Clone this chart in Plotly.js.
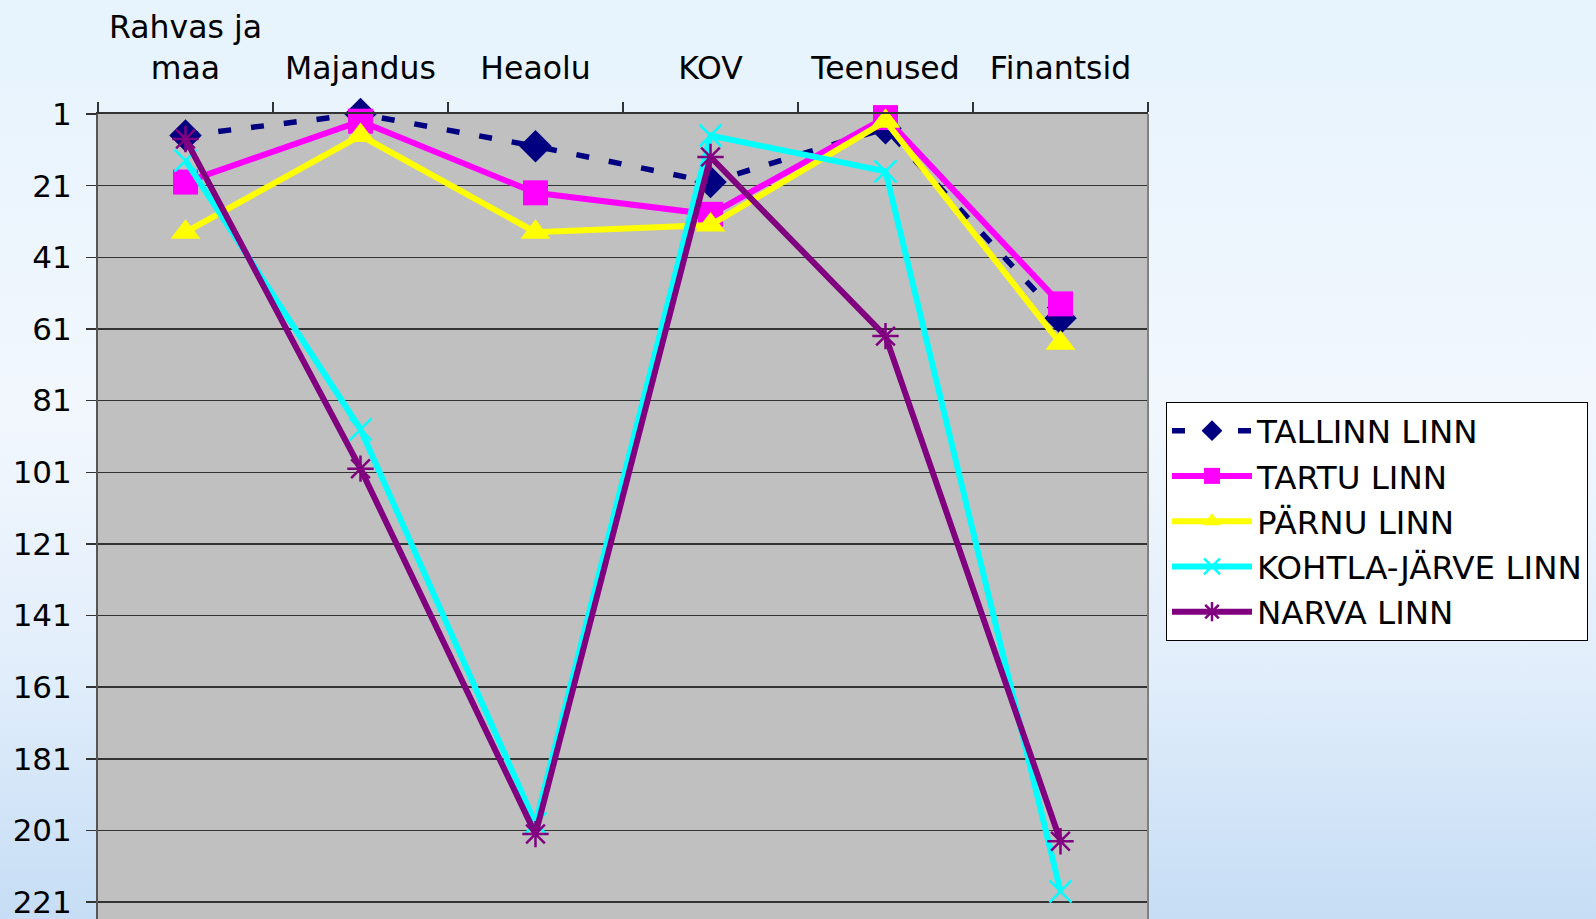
<!DOCTYPE html>
<html>
<head>
<meta charset="utf-8">
<script src="https://cdn.plot.ly/plotly-3.0.1.min.js"></script>
<style>
html,body{margin:0;padding:0;overflow:hidden;}
body{background:linear-gradient(to bottom,#E6F3FD 0%,#F2F7FD 45%,#E2EEFB 72%,#C6DDF5 100%);}
#chart{width:1596px;height:919px;}
</style>
</head>
<body>
<div id="chart"></div>
<script>
const categories = ["Rahvas ja<br>maa", "Majandus", "Heaolu", "KOV", "Teenused", "Finantsid"];
const seriesNames = ["TALLINN LINN", "TARTU LINN", "PÄRNU LINN", "KOHTLA-JÄRVE LINN", "NARVA LINN"];
const tallinn = [7, 1, 10, 20, 5, 58];
const tartu = [20, 3, 23, 29, 2, 54];
const parnu = [34, 7, 34, 32, 3, 65];
const kohtlaJarve = [14, 89, 199, 7, 17, 218];
const narva = [8, 100, 202, 13, 63, 204];
const yTickVals = [1, 21, 41, 61, 81, 101, 121, 141, 161, 181, 201, 221];

const F = "DejaVu Sans, Verdana, sans-serif";

const traces = [
  {name: seriesNames[0], y: tallinn, line: {color: "#000080", width: 5.5, dash: "13px,20px"},
   marker: {symbol: "diamond", size: 25, color: "#000080"}},
  {name: seriesNames[1], y: tartu, line: {color: "#FF00FF", width: 6},
   marker: {symbol: "square", size: 25, color: "#FF00FF"}},
  {name: seriesNames[2], y: parnu, line: {color: "#FFFF00", width: 6},
   marker: {symbol: "triangle-up", size: 26, color: "#FFFF00"}},
  {name: seriesNames[3], y: kohtlaJarve, line: {color: "#00FFFF", width: 6},
   marker: {symbol: "x-thin-open", size: 22, color: "#00FFFF", line: {width: 2.5, color: "#00FFFF"}}},
  {name: seriesNames[4], y: narva, line: {color: "#800080", width: 6},
   marker: {symbol: "asterisk-open", size: 22, color: "#800080", line: {width: 2.5, color: "#800080"}}}
].map(t => Object.assign({type: "scatter", mode: "lines+markers", x: categories, cliponaxis: false}, t));

const layout = {
  width: 1596, height: 919,
  margin: {l: 98, r: 448, t: 114, b: 0, pad: 0},
  paper_bgcolor: "rgba(0,0,0,0)",
  plot_bgcolor: "#C0C0C0",
  showlegend: true,
  font: {family: F, size: 31, color: "#000"},
  xaxis: {
    type: "category", side: "top", range: [-0.5, 5.5],
    tickson: "boundaries", ticks: "outside", ticklen: 10, tickcolor: "#333", tickwidth: 1.5,
    showline: true, linecolor: "#333", linewidth: 2, mirror: false,
    showgrid: false, zeroline: false, fixedrange: true,
    tickfont: {family: F, size: 31.5, color: "#000"}, ticklabelstandoff: 20
  },
  yaxis: {
    autorange: false, range: [225.7, 1],
    tickmode: "array", tickvals: yTickVals, ticktext: yTickVals.map(String),
    ticks: "outside", ticklen: 10, tickcolor: "#333", tickwidth: 1.5,
    showline: true, linecolor: "#555", linewidth: 2,
    showgrid: true, gridcolor: "#333", gridwidth: 1.5, zeroline: false, fixedrange: true,
    tickfont: {family: F, size: 31, color: "#000"}, ticklabelstandoff: 8,
    ticklabeloverflow: "allow"
  },
  shapes: [{type: "line", xref: "paper", yref: "paper", x0: 1, x1: 1, y0: 0, y1: 1,
            line: {color: "#808080", width: 2}}],
  legend: {
    xref: "container", yref: "container", x: 1166/1596, y: 1 - 402/919, xanchor: "left", yanchor: "top",
    bgcolor: "#FFFFFF", bordercolor: "#000", borderwidth: 1,
    font: {family: F, size: 32.5, color: "#000"}, itemwidth: 80, tracegroupgap: 0,
    itemclick: false, itemdoubleclick: false
  }
};

Plotly.newPlot("chart", traces, layout, {displayModeBar: false, staticPlot: true});
</script>
</body>
</html>
